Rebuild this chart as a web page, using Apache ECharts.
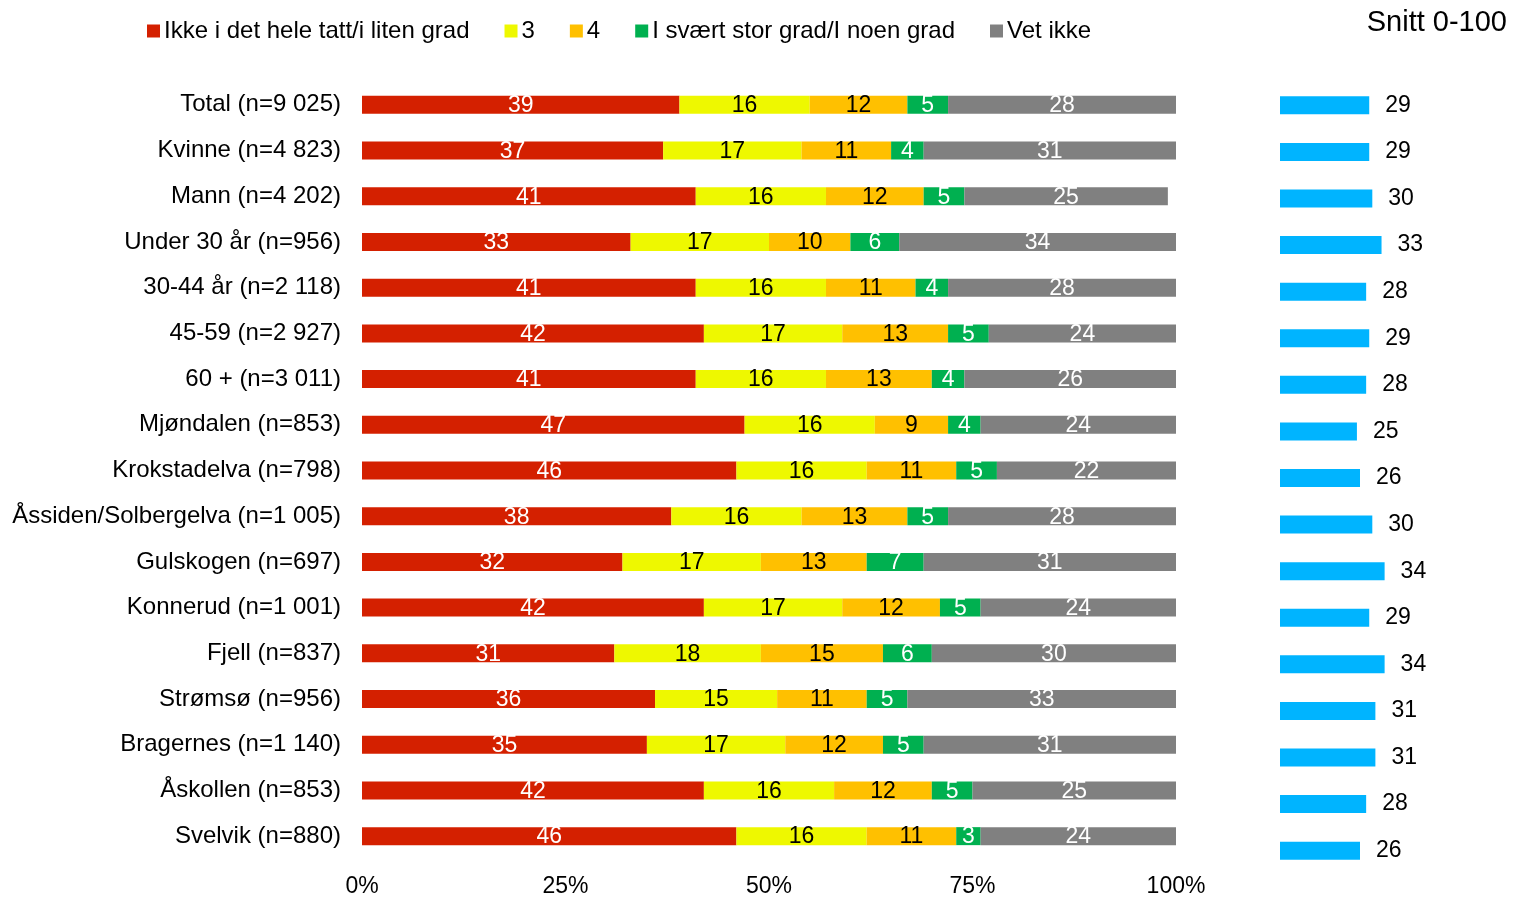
<!DOCTYPE html>
<html>
<head>
<meta charset="utf-8">
<script src="https://cdn.jsdelivr.net/npm/echarts@6/dist/echarts.min.js"></script>
<style>
  html, body { margin: 0; padding: 0; background: #fff; }
  #chart { width: 1516px; height: 898px; }
</style>
</head>
<body>
<div id="chart"></div>
<script>
// Groups, top to bottom
const categories = [
  'Total (n=9 025)', 'Kvinne (n=4 823)', 'Mann (n=4 202)', 'Under 30 år (n=956)',
  '30-44 år (n=2 118)', '45-59 (n=2 927)', '60 + (n=3 011)', 'Mjøndalen (n=853)',
  'Krokstadelva (n=798)', 'Åssiden/Solbergelva (n=1 005)', 'Gulskogen (n=697)',
  'Konnerud (n=1 001)', 'Fjell (n=837)', 'Strømsø (n=956)', 'Bragernes (n=1 140)',
  'Åskollen (n=853)', 'Svelvik (n=880)'
];

// Answer shares in percent
const lowShare   = [39, 37, 41, 33, 41, 42, 41, 47, 46, 38, 32, 42, 31, 36, 35, 42, 46];
const threeShare = [16, 17, 16, 17, 16, 17, 16, 16, 16, 16, 17, 17, 18, 15, 17, 16, 16];
const fourShare  = [12, 11, 12, 10, 11, 13, 13,  9, 11, 13, 13, 12, 15, 11, 12, 12, 11];
const highShare  = [ 5,  4,  5,  6,  4,  5,  4,  4,  5,  5,  7,  5,  6,  5,  5,  5,  3];
const dontKnow   = [28, 31, 25, 34, 28, 24, 26, 24, 22, 28, 31, 24, 30, 33, 31, 25, 24];

// Mean score on a 0-100 scale
const meanScore  = [29, 29, 30, 33, 28, 29, 28, 25, 26, 30, 34, 29, 34, 31, 31, 28, 26];

const seriesNames = ['Ikke i det hele tatt/i liten grad', '3', '4', 'I svært stor grad/I noen grad', 'Vet ikke'];
const xTicks = [0, 25, 50, 75, 100];

const colors = ['#D42000', '#EEF800', '#FFC000', '#00B050', '#808080'];
const labelColors = ['#fff', '#000', '#000', '#fff', '#fff'];
const shares = [lowShare, threeShare, fourShare, highShare, dontKnow];

const narrow = '"Liberation Sans Narrow", "Arial Narrow", "Liberation Sans", Arial, sans-serif';
const regular = '"Liberation Sans", Arial, sans-serif';

const stackSeries = shares.map((vals, i) => ({
  name: seriesNames[i],
  type: 'bar',
  stack: 'share',
  xAxisIndex: 0,
  yAxisIndex: 0,
  data: vals,
  barWidth: 18,
  itemStyle: { color: colors[i] },
  label: {
    show: true,
    position: 'inside',
    color: labelColors[i],
    fontFamily: narrow,
    fontSize: 23,
    offset: [0, 1],
    formatter: '{c}'
  },
  emphasis: { disabled: true }
}));

const chart = echarts.init(document.getElementById('chart'), null, { renderer: 'canvas' });

chart.setOption({
  animation: false,
  backgroundColor: '#fff',
  title: {
    text: 'Snitt 0-100',
    right: 4,
    top: 3,
    textStyle: { fontFamily: regular, fontSize: 29, fontWeight: 'normal', color: '#000' }
  },
  legend: {
    data: seriesNames,
    left: 142,
    top: 14,
    itemWidth: 13,
    itemHeight: 13,
    itemGap: 35,
    icon: 'rect',
    textStyle: { fontFamily: regular, fontSize: 24, color: '#000', padding: [0, 0, 0, -1] }
  },
  grid: [
    { left: 362, width: 814, top: 82, height: 777 },
    { left: 1280, width: 200, top: 82, height: 792 }
  ],
  xAxis: [
    {
      gridIndex: 0,
      type: 'value',
      min: xTicks[0],
      max: xTicks[xTicks.length - 1],
      interval: 25,
      axisLine: { show: false },
      axisTick: { show: false },
      splitLine: { show: false },
      axisLabel: {
        formatter: v => xTicks.includes(v) ? v + '%' : '',
        fontFamily: regular,
        fontSize: 23,
        color: '#000',
        margin: 16
      }
    },
    {
      gridIndex: 1,
      type: 'value',
      min: 0,
      max: 65,
      show: false
    }
  ],
  yAxis: [
    {
      gridIndex: 0,
      type: 'category',
      data: categories,
      inverse: true,
      axisLine: { show: false },
      axisTick: { show: false },
      axisLabel: { fontFamily: regular, fontSize: 24, color: '#000', margin: 21 }
    },
    {
      gridIndex: 1,
      type: 'category',
      data: categories,
      inverse: true,
      show: false
    }
  ],
  series: [
    ...stackSeries,
    {
      name: 'Snitt 0-100',
      type: 'bar',
      xAxisIndex: 1,
      yAxisIndex: 1,
      data: meanScore,
      barWidth: 18,
      itemStyle: { color: '#00B4FF' },
      label: {
        show: true,
        position: 'right',
        distance: 16,
        color: '#000',
        fontFamily: regular,
        fontSize: 23
      },
      emphasis: { disabled: true }
    }
  ]
});
</script>
</body>
</html>
